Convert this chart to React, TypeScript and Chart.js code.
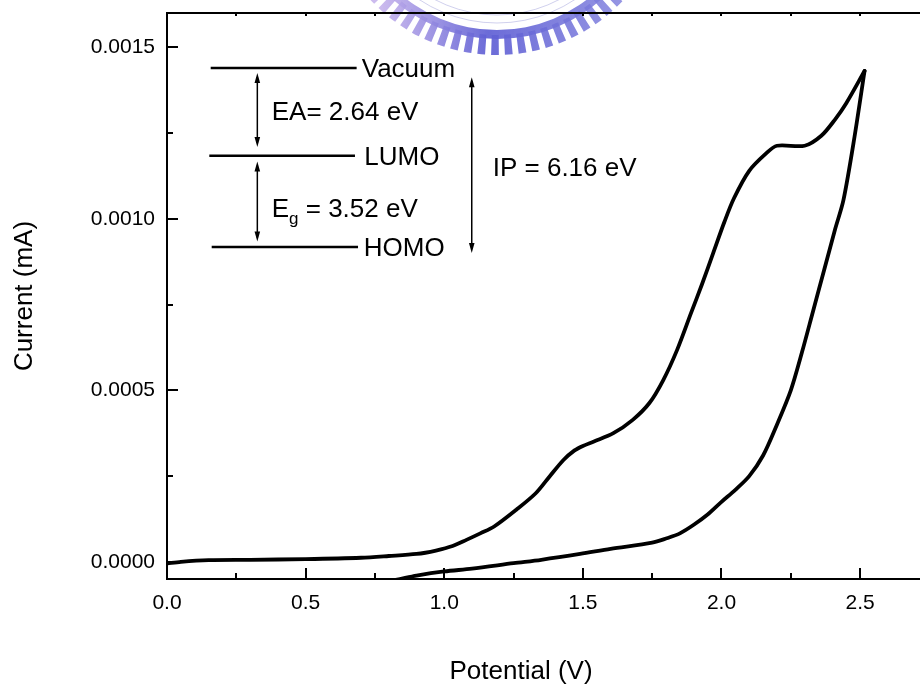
import React, { useEffect, useRef } from "react";
import { Chart, registerables } from "chart.js";

Chart.register(...registerables);

// ---- Data ----
// forward (oxidation) scan
const forwardX = [0, 0.05, 0.15, 0.3, 0.5, 0.7, 0.8, 0.9, 0.97, 1.03, 1.08, 1.13, 1.18, 1.26, 1.33, 1.38, 1.43, 1.47, 1.5, 1.54, 1.61, 1.68, 1.74, 1.79, 1.84, 1.89, 1.93, 1.97, 2.01, 2.045, 2.1, 2.16, 2.2, 2.3, 2.36, 2.41, 2.45, 2.516];
const forwardY = [-0.000005, 0.0, 0.000005, 0.000006, 0.000008, 0.000012, 0.000017, 0.000023, 0.000033, 0.000046, 0.000064, 0.000083, 0.000103, 0.000152, 0.0002, 0.000249, 0.000297, 0.000325, 0.000338, 0.000351, 0.000375, 0.000414, 0.000463, 0.00053, 0.000618, 0.000725, 0.00081, 0.0009, 0.00099, 0.00106, 0.00114, 0.00119, 0.001213, 0.001213, 0.001242, 0.00129, 0.001337, 0.001431];
// reverse scan
const reverseX = [2.516, 2.48, 2.44, 2.41, 2.37, 2.33, 2.29, 2.25, 2.2, 2.15, 2.1, 2.05, 2.0, 1.95, 1.9, 1.85, 1.8, 1.75, 1.6, 1.49, 1.35, 1.25, 1.1, 1.0, 0.9, 0.84, 0.78];
const reverseY = [0.001431, 0.00124, 0.001055, 0.00097, 0.00085, 0.00073, 0.00061, 0.0005, 0.0004, 0.00031, 0.00025, 0.00021, 0.000175, 0.000138, 0.000108, 0.000083, 0.000068, 0.000056, 0.000038, 0.000023, 0.000006, -0.000004, -0.00002, -0.000028, -0.00004, -0.00005, -0.00006];

const xMin = 0;
const xMax = 2.716;
const yMin = -0.00005;
const yMax = 0.0016;

const xTicks = [0, 0.5, 1.0, 1.5, 2.0, 2.5];
const xTickLabels = ["0.0", "0.5", "1.0", "1.5", "2.0", "2.5"];
const xMinorTicks = [0.25, 0.75, 1.25, 1.75, 2.25];
const yTicks = [0, 0.0005, 0.001, 0.0015];
const yTickLabels = ["0.0000", "0.0005", "0.0010", "0.0015"];
const yMinorTicks = [0.00025, 0.00075, 0.00125];

const xTitle = "Potential (V)";
const yTitle = "Current (mA)";
const xTitleAt = 1.277; // horizontal centre of the x title, in axis units

// energy-level diagram (data coordinates)
const levelNames = ["Vacuum", "LUMO", "HOMO"];
const levelY = [0.0014394, 0.0011837, 0.0009175];
const levelX0 = [0.1576, 0.1526, 0.1612];
const levelX1 = [0.684, 0.678, 0.689];
const levelLabelX = [0.7024, 0.7118, 0.7096];

const arrowX = [0.3258, 0.3258, 1.0992];
const arrowY0 = [0.0014248, 0.001167, 0.001413];
const arrowY1 = [0.001209, 0.000934, 0.0009];

const gapLabels = ["EA= 2.64 eV", "E", "IP = 6.16 eV"];
const gapSubs = ["", "g", ""];
const gapTails = ["", " = 3.52 eV", ""];
const gapLabelX = [0.3777, 0.3777, 1.1749];
const gapLabelY = [0.0013144, 0.0010335, 0.0011525];

const FONT = "'Liberation Sans', Arial, Helvetica, sans-serif";

const decorPlugin = {
  id: "decor",
  beforeDraw(chart: any) {
    // faint university watermark at the top
    const ctx = chart.ctx;
    const cx = 497, cy = -118;
    ctx.save();
    const g = ctx.createLinearGradient(380, 0, 620, 0);
    g.addColorStop(0, "rgba(195,175,235,0.85)");
    g.addColorStop(0.45, "rgba(95,95,212,0.92)");
    g.addColorStop(1, "rgba(130,130,222,0.85)");
    ctx.fillStyle = g;
    ctx.beginPath();
    ctx.arc(cx, cy, 157, 0, Math.PI * 2);
    ctx.arc(cx, cy, 148, 0, Math.PI * 2, true);
    ctx.fill();
    const step = 0.08;
    const w = 0.045;
    for (let a = 0.2; a < Math.PI - 0.2; a += step) {
      ctx.beginPath();
      ctx.arc(cx, cy, 173, a, a + w);
      ctx.arc(cx, cy, 153, a + w, a, true);
      ctx.closePath();
      ctx.fill();
    }
    ctx.strokeStyle = "rgba(150,150,215,0.45)";
    ctx.lineWidth = 1;
    ctx.beginPath();
    ctx.arc(cx, cy, 141, 0, Math.PI * 2);
    ctx.stroke();
    ctx.beginPath();
    ctx.arc(cx, cy, 133, 0, Math.PI * 2);
    ctx.stroke();
    ctx.restore();
  },
  afterDraw(chart: any) {
    const ctx = chart.ctx;
    const xs = chart.scales.x;
    const ys = chart.scales.y;
    const area = chart.chartArea;
    const px = (v: number) => xs.getPixelForValue(v);
    const py = (v: number) => ys.getPixelForValue(v);

    ctx.save();
    ctx.strokeStyle = "#000";
    ctx.fillStyle = "#000";

    // top frame line
    ctx.lineWidth = 2;
    ctx.beginPath();
    ctx.moveTo(area.left - 1, area.top);
    ctx.lineTo(area.right + 2, area.top);
    ctx.stroke();

    // inward ticks
    const tick = (x1: number, y1: number, x2: number, y2: number) => {
      ctx.beginPath();
      ctx.moveTo(x1, y1);
      ctx.lineTo(x2, y2);
      ctx.stroke();
    };
    ctx.lineWidth = 2;
    xTicks.forEach((v) => {
      const x = Math.round(px(v));
      tick(x, area.bottom, x, area.bottom - 11);
      tick(x, area.top, x, area.top + 3);
    });
    xMinorTicks.forEach((v) => {
      const x = Math.round(px(v));
      tick(x, area.bottom, x, area.bottom - 6);
      tick(x, area.top, x, area.top + 3);
    });
    yTicks.forEach((v) => {
      const y = Math.round(py(v));
      tick(area.left, y, area.left + 11, y);
    });
    yMinorTicks.forEach((v) => {
      const y = Math.round(py(v));
      tick(area.left, y, area.left + 6, y);
    });

    // x axis title
    ctx.font = `26px ${FONT}`;
    ctx.textAlign = "center";
    ctx.textBaseline = "middle";
    ctx.fillText(xTitle, px(xTitleAt), 672);

    // energy levels
    const big = 26;
    ctx.textAlign = "left";
    ctx.textBaseline = "alphabetic";
    ctx.lineWidth = 2.5;
    levelNames.forEach((name, i) => {
      const y = py(levelY[i]);
      tick(px(levelX0[i]), y, px(levelX1[i]), y);
      ctx.font = `${big}px ${FONT}`;
      ctx.fillText(name, px(levelLabelX[i]), y + 0.358 * big);
    });

    // double arrows
    const head = (x: number, y: number, dir: number) => {
      ctx.beginPath();
      ctx.moveTo(x, y);
      ctx.lineTo(x - 2.8, y + dir * 10);
      ctx.lineTo(x + 2.8, y + dir * 10);
      ctx.closePath();
      ctx.fill();
    };
    ctx.lineWidth = 1.5;
    arrowX.forEach((ax, i) => {
      const x = px(ax);
      const y0 = py(arrowY0[i]);
      const y1 = py(arrowY1[i]);
      tick(x, y0 + 4, x, y1 - 4);
      head(x, y0, 1);
      head(x, y1, -1);
    });

    // gap labels
    gapLabels.forEach((t, i) => {
      let x = px(gapLabelX[i]);
      const base = py(gapLabelY[i]) + 0.358 * big;
      ctx.font = `${big}px ${FONT}`;
      ctx.fillText(t, x, base);
      x += ctx.measureText(t).width;
      if (gapSubs[i]) {
        ctx.font = `17px ${FONT}`;
        ctx.fillText(gapSubs[i], x, base + 7);
        x += ctx.measureText(gapSubs[i]).width;
      }
      if (gapTails[i]) {
        ctx.font = `${big}px ${FONT}`;
        ctx.fillText(gapTails[i], x, base);
      }
    });

    ctx.restore();
  },
};

export default function App() {
  const ref = useRef<HTMLCanvasElement | null>(null);

  useEffect(() => {
    const canvas = ref.current;
    if (!canvas) return;
    const tickFont = { family: FONT, size: 21 };
    const chart = new Chart(canvas, {
      type: "scatter",
      data: {
        datasets: [
          {
            data: forwardX.map((x, i) => ({ x, y: forwardY[i] })),
            showLine: true,
            borderColor: "#000",
            borderWidth: 3.8,
            pointRadius: 0,
            tension: 0.3,
            borderCapStyle: "round",
            borderJoinStyle: "round",
          },
          {
            data: reverseX.map((x, i) => ({ x, y: reverseY[i] })),
            showLine: true,
            borderColor: "#000",
            borderWidth: 3.8,
            pointRadius: 0,
            tension: 0.3,
            borderCapStyle: "round",
            borderJoinStyle: "round",
          },
        ],
      },
      options: {
        animation: false,
        responsive: false,
        devicePixelRatio: 1,
        layout: { padding: { top: 13, left: 0, right: 0, bottom: 0 } },
        plugins: {
          legend: { display: false },
          tooltip: { enabled: false },
        },
        scales: {
          x: {
            type: "linear",
            min: xMin,
            max: xMax,
            afterBuildTicks: (s: any) => {
              s.ticks = xTicks.map((v) => ({ value: v }));
            },
            afterFit: (s: any) => {
              s.height = 110;
              s.paddingLeft = 0;
              s.paddingRight = 0;
            },
            grid: { display: false, drawTicks: false },
            border: { display: true, color: "#000", width: 2 },
            ticks: {
              font: tickFont,
              color: "#000",
              padding: 12,
              maxRotation: 0,
              autoSkip: false,
              callback: (v: any) => xTickLabels[xTicks.indexOf(Number(v))] ?? "",
            },
            title: { display: false },
          },
          y: {
            type: "linear",
            min: yMin,
            max: yMax,
            afterBuildTicks: (s: any) => {
              s.ticks = yTicks.map((v) => ({ value: v }));
            },
            afterFit: (s: any) => {
              s.width = 167;
              s.paddingTop = 0;
              s.paddingBottom = 0;
            },
            grid: { display: false, drawTicks: false },
            border: { display: true, color: "#000", width: 2 },
            ticks: {
              font: tickFont,
              color: "#000",
              padding: 12,
              autoSkip: false,
              callback: (v: any) => yTickLabels[yTicks.indexOf(Number(v))] ?? "",
            },
            title: {
              display: true,
              text: yTitle,
              color: "#000",
              font: { family: FONT, size: 26 },
              padding: { top: 9, bottom: 0 },
            },
          },
        },
      },
      plugins: [decorPlugin],
    } as any);
    return () => chart.destroy();
  }, []);

  return (
    <div style={{ position: "absolute", left: 0, top: 0, width: 920, height: 689, overflow: "hidden", background: "#fff" }}>
      <canvas ref={ref} width={920} height={689} style={{ display: "block", width: 920, height: 689 }} />
    </div>
  );
}
